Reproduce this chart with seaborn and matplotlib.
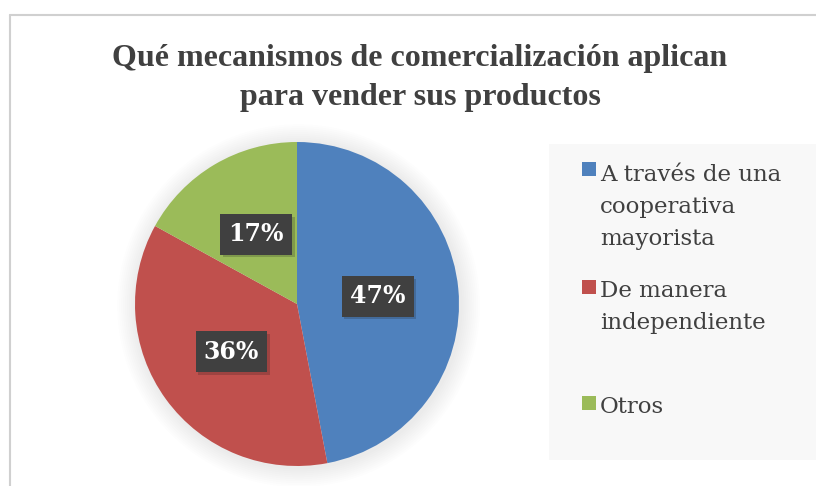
import matplotlib
matplotlib.use("Agg")
import matplotlib.pyplot as plt
import matplotlib.patheffects as pe
from matplotlib.patches import Rectangle, Circle
from matplotlib.lines import Line2D
import seaborn as sns

# data
categories = ["A través de una\ncooperativa\nmayorista", "De manera\nindependiente", "Otros"]
values = [47, 36, 17]
colors = ["#4f81bd", "#c0504d", "#9bbb59"]
title = "Qué mecanismos de comercialización aplican\npara vender sus productos"

sns.set_theme(style="white")
palette = sns.color_palette(colors)

W, H = 816, 486
fig = plt.figure(figsize=(W / 100, H / 100), dpi=100)
fig.patch.set_facecolor("white")

def px(x, y):
    # pixel (from top-left) -> figure fraction
    return x / W, 1 - y / H

# outer chart border (left and top visible)
fig.add_artist(Line2D([10 / W, 10 / W], [0, 1 - 15 / H], transform=fig.transFigure, color="#d0d0d0", lw=1.5))
fig.add_artist(Line2D([10 / W, 1], [1 - 15 / H, 1 - 15 / H], transform=fig.transFigure, color="#d0d0d0", lw=1.5))

# legend panel
fig.add_artist(Rectangle(px(549, 460), (W - 549) / W, (460 - 144) / H, transform=fig.transFigure,
                         facecolor="#f8f8f8", edgecolor="none", zorder=0))

# title (baseline of last line)
fig.text(420 / W, 1 - 105 / H, title, ha="center", va="baseline", fontsize=23, fontweight="bold",
         family="Liberation Serif", color="#404040", linespacing=1.45)

# pie
cx, cy, R = 297, 304, 162
lim = 1.25
side = 2 * R * lim
ax = fig.add_axes([(cx - side / 2) / W, (H - cy - side / 2) / H, side / W, side / H])

for i in range(10):
    ax.add_patch(Circle((0.01, -0.01), 1.0 + 0.012 * (i + 1), color="black", alpha=0.007, lw=0, zorder=0))

wedges, _, autotexts = ax.pie(values, colors=palette, startangle=90, counterclock=False,
                              autopct="%1.0f%%", pctdistance=0.5,
                              wedgeprops=dict(linewidth=0, zorder=2),
                              textprops=dict(color="white", fontsize=17, fontweight="bold", family="DejaVu Serif"))
for t in autotexts:
    t.set_zorder(5)
    t.set_bbox(dict(boxstyle="square,pad=0.35", facecolor="#404040", edgecolor="none"))
    t.get_bbox_patch().set_path_effects([pe.withSimplePatchShadow(offset=(2, -2), alpha=0.2), pe.Normal()])
ax.set_xlim(-lim, lim)
ax.set_ylim(-lim, lim)
ax.set_aspect("equal")
ax.axis("off")

# legend entries: square at first line, text anchored at last line baseline
first_baselines = [179, 297, 413]
last_baselines = [245, 329, 413]
for lab, col, yf, yl in zip(categories, palette, first_baselines, last_baselines):
    fig.add_artist(Rectangle(px(582, yf - 3), 14 / W, 14 / H, transform=fig.transFigure,
                             facecolor=col, edgecolor="none"))
    fig.text(600 / W, 1 - yl / H, lab, ha="left", va="baseline", fontsize=16.5,
             family="DejaVu Serif", color="#404040", linespacing=1.6)

fig.savefig("out.png", dpi=100)
